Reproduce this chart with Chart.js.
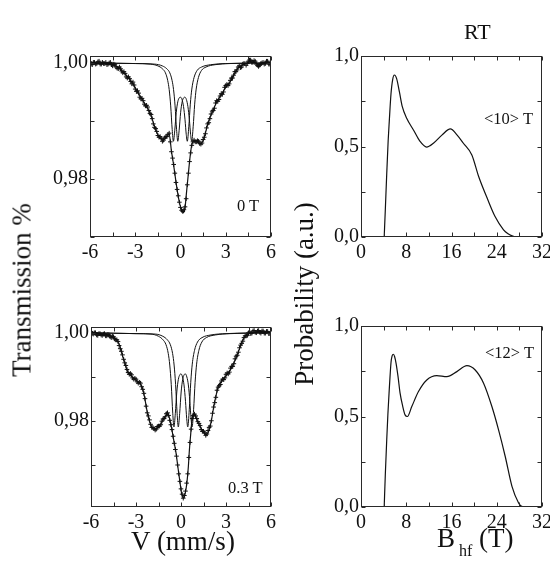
<!DOCTYPE html>
<html><head><meta charset="utf-8">
<script src="https://cdn.jsdelivr.net/npm/chart.js@4.4.0/dist/chart.umd.min.js"></script>
<style>
html,body{margin:0;padding:0;background:#fff}
body{width:550px;height:565px;position:relative;overflow:hidden;font-family:"Liberation Serif","Times New Roman",serif;color:#111}
canvas{position:absolute}
.t{position:absolute;white-space:nowrap;line-height:1}
.rot{transform:translate(-50%,-50%) rotate(-90deg)}
</style></head><body>
<canvas id="c1" width="290" height="230" style="left:0;top:36px"></canvas>
<canvas id="c2" width="260" height="230" style="left:290px;top:36px"></canvas>
<canvas id="c3" width="290" height="230" style="left:0;top:306px"></canvas>
<canvas id="c4" width="260" height="230" style="left:290px;top:306px"></canvas>

<div class="t" style="left:464px;top:21px;font-size:22px">RT</div>
<div class="t rot" style="left:22px;top:290px;font-size:27px">Transmission %</div>
<div class="t rot" style="left:304px;top:294px;font-size:27px">Probability (a.u.)</div>
<div class="t" style="left:183px;top:528px;font-size:27px;transform:translateX(-50%)">V (mm/s)</div>
<div class="t" style="left:437px;top:525px;font-size:27px">B<span style="font-size:16px;position:relative;top:9px;margin-left:4px">hf</span> (T)</div>
<div class="t" style="left:237px;top:198px;font-size:16.5px">0 T</div>
<div class="t" style="left:228px;top:480px;font-size:16.5px">0.3 T</div>
<div class="t" style="left:484px;top:111px;font-size:16.5px">&lt;10&gt; T</div>
<div class="t" style="left:485px;top:345px;font-size:16.5px">&lt;12&gt; T</div>

<script>
// ---- data ----
const vGrid = [-6.00,-5.85,-5.70,-5.55,-5.40,-5.25,-5.10,-4.95,-4.80,-4.65,-4.50,-4.35,-4.20,-4.05,-3.90,-3.75,-3.60,-3.45,-3.30,-3.15,-3.00,-2.85,-2.70,-2.55,-2.40,-2.25,-2.10,-1.95,-1.80,-1.65,-1.50,-1.35,-1.20,-1.05,-0.90,-0.75,-0.60,-0.45,-0.30,-0.15,0.00,0.15,0.30,0.45,0.60,0.75,0.90,1.05,1.20,1.35,1.50,1.65,1.80,1.95,2.10,2.25,2.40,2.55,2.70,2.85,3.00,3.15,3.30,3.45,3.60,3.75,3.90,4.05,4.20,4.35,4.50,4.65,4.80,4.95,5.10,5.25,5.40,5.55,5.70,5.85,6.00];
const vGridB = [-5.925,-5.775,-5.625,-5.475,-5.325,-5.175,-5.025,-4.875,-4.725,-4.575,-4.425,-4.275,-4.125,-3.975,-3.825,-3.675,-3.525,-3.375,-3.225,-3.075,-2.925,-2.775,-2.625,-2.475,-2.325,-2.175,-2.025,-1.875,-1.725,-1.575,-1.425,-1.275,-1.125,-0.975,-0.825,-0.675,-0.525,-0.375,-0.225,-0.075,0.075,0.225,0.375,0.525,0.675,0.825,0.975,1.125,1.275,1.425,1.575,1.725,1.875,2.025,2.175,2.325,2.475,2.625,2.775,2.925,3.075,3.225,3.375,3.525,3.675,3.825,3.975,4.125,4.275,4.425,4.575,4.725,4.875,5.025,5.175,5.325,5.475,5.625,5.775,5.925];

// 0 T spectrum: measured points
const tData0 = [1.0002,0.9997,1.0001,0.9999,1.0003,0.9998,0.9999,1.0001,0.9998,1.0001,
0.9995,0.9997,0.9991,0.9993,0.9986,0.9985,0.9976,0.9976,0.9968,0.9967,
0.9955,0.9952,0.9941,0.9939,0.9929,0.9927,0.9918,0.9911,0.9895,0.9887,
0.9875,0.9873,0.9865,0.9871,0.9873,0.9879,0.9847,0.9825,0.9794,0.9771,
0.9751,0.9744,0.9752,0.9790,0.9830,0.9858,0.9867,0.9864,0.9865,0.9860,
0.9868,0.9878,0.9895,0.9904,0.9917,0.9922,0.9935,0.9937,0.9947,0.9950,
0.9961,0.9961,0.9970,0.9974,0.9985,0.9988,0.9995,0.9993,0.9999,0.9996,
1.0003,1.0005,1.0001,1.0003,0.9996,0.9996,1.0000,0.9998,1.0003,0.9998,
1.0001];
const tData0b = [0.9998,1.0001,0.9998,1.0002,0.9998,1.0001,0.9999,0.9997,1.0000,0.9997,
0.9998,0.9993,0.9990,0.9990,0.9983,0.9982,0.9974,0.9973,0.9964,0.9962,
0.9951,0.9948,0.9938,0.9935,0.9926,0.9924,0.9913,0.9904,0.9889,0.9882,
0.9872,0.9870,0.9867,0.9873,0.9877,0.9864,0.9836,0.9810,0.9782,0.9760,
0.9746,0.9747,0.9766,0.9810,0.9845,0.9864,0.9864,0.9866,0.9861,0.9862,
0.9872,0.9888,0.9897,0.9912,0.9918,0.9931,0.9934,0.9943,0.9946,0.9958,
0.9963,0.9964,0.9974,0.9979,0.9985,0.9993,0.9992,0.9998,0.9999,0.9999,
1.0005,1.0001,1.0004,0.9998,0.9994,0.9999,1.0001,0.9999,1.0003,0.9998];
// 0.3 T spectrum: measured points
const tData3 = [1.0003,0.9997,1.0000,0.9994,0.9998,0.9994,0.9998,0.9993,0.9995,0.9989,
0.9991,0.9984,0.9980,0.9964,0.9950,0.9932,0.9917,0.9906,0.9905,0.9895,
0.9895,0.9886,0.9886,0.9872,0.9851,0.9819,0.9803,0.9786,0.9783,0.9782,
0.9789,0.9792,0.9805,0.9810,0.9819,0.9802,0.9781,0.9750,0.9721,0.9681,
0.9647,0.9626,0.9642,0.9681,0.9752,0.9806,0.9816,0.9806,0.9795,0.9781,
0.9777,0.9768,0.9779,0.9789,0.9818,0.9842,0.9870,0.9880,0.9891,0.9894,
0.9906,0.9907,0.9920,0.9924,0.9941,0.9949,0.9966,0.9976,0.9989,0.9993,
1.0000,0.9998,1.0004,1.0001,1.0004,1.0001,1.0004,0.9999,1.0003,0.9998,
1.0001];
const tData3b = [0.9998,1.0000,0.9995,0.9998,0.9995,0.9997,0.9993,0.9996,0.9991,0.9992,
0.9986,0.9984,0.9971,0.9958,0.9940,0.9926,0.9910,0.9908,0.9898,0.9897,
0.9889,0.9888,0.9878,0.9863,0.9834,0.9812,0.9793,0.9786,0.9780,0.9788,
0.9789,0.9800,0.9806,0.9817,0.9813,0.9792,0.9766,0.9736,0.9701,0.9664,
0.9635,0.9632,0.9660,0.9718,0.9782,0.9813,0.9812,0.9799,0.9790,0.9777,
0.9774,0.9771,0.9786,0.9801,0.9832,0.9854,0.9877,0.9883,0.9895,0.9898,
0.9909,0.9911,0.9924,0.9930,0.9947,0.9956,0.9972,0.9981,0.9993,0.9994,
1.0002,0.9999,1.0005,1.0000,1.0005,0.9999,1.0004,0.9999,1.0003,0.9998];

// total fit curves
const vFit0 = [-6.0,-5.5,-5.0,-4.6,-4.3,-4.0,-3.8,-3.5,-3.2,-2.9,-2.6,-2.3,-2.0,-1.8,-1.6,-1.4,-1.2,-1.0,-0.85,-0.75,-0.6,-0.45,-0.3,-0.15,0.0,0.19,0.3,0.41,0.52,0.63,0.74,0.9,1.1,1.3,1.5,1.7,1.9,2.1,2.3,2.5,2.75,3.0,3.3,3.6,3.8,4.1,4.4,4.75,5.0,5.3,5.6,6.0];
const tFit0 = [1.0000,1.0000,0.9999,0.9998,0.9995,0.9990,0.9984,0.9976,0.9966,0.9952,0.9940,0.9926,0.9913,0.9897,0.9882,0.9872,0.9867,0.9870,0.9876,0.9877,0.9848,0.9823,0.9795,0.9770,0.9752,0.9742,0.9751,0.9780,0.9809,0.9837,0.9858,0.9866,0.9866,0.9861,0.9866,0.9884,0.9902,0.9915,0.9927,0.9937,0.9947,0.9958,0.9968,0.9982,0.9991,0.9996,1.0000,1.0003,1.0000,0.9997,1.0000,1.0000];
const vFit3 = [-6.0,-5.5,-5.0,-4.6,-4.3,-4.1,-3.9,-3.75,-3.6,-3.4,-3.2,-2.9,-2.7,-2.55,-2.4,-2.2,-2.0,-1.8,-1.6,-1.4,-1.2,-1.0,-0.88,-0.72,-0.6,-0.5,-0.34,-0.21,-0.06,0.05,0.16,0.27,0.39,0.49,0.56,0.65,0.74,0.83,0.95,1.1,1.3,1.5,1.7,1.9,2.05,2.2,2.35,2.5,2.8,3.1,3.4,3.7,3.9,4.1,4.35,4.6,5.0,5.3,5.6,6.0];
const tFit3 = [1.0000,0.9997,0.9995,0.9992,0.9984,0.9972,0.9948,0.9933,0.9915,0.9905,0.9898,0.9890,0.9884,0.9873,0.9849,0.9812,0.9790,0.9782,0.9784,0.9790,0.9803,0.9813,0.9818,0.9800,0.9780,0.9760,0.9730,0.9697,0.9660,0.9635,0.9626,0.9635,0.9660,0.9697,0.9735,0.9772,0.9806,0.9816,0.9812,0.9800,0.9786,0.9775,0.9770,0.9783,0.9806,0.9836,0.9860,0.9880,0.9894,0.9907,0.9922,0.9946,0.9964,0.9982,0.9995,1.0000,1.0002,1.0003,1.0001,1.0000];

// sub-spectra (two doublets)
const vSubA = [-6,-3,-2,-1.5,-1.2,-1.0,-0.85,-0.75,-0.65,-0.55,-0.47,-0.38,-0.28,-0.18,-0.08,0.0,0.1,0.2,0.3,0.38,0.45,0.55,0.65,0.75,0.9,1.1,1.4,2,3,6];
const vSubB = [-6,-3,-1.71,-1.21,-0.91,-0.71,-0.56,-0.46,-0.36,-0.26,-0.18,-0.09,0.01,0.11,0.21,0.29,0.39,0.49,0.59,0.67,0.74,0.84,0.94,1.04,1.19,1.39,1.69,2.29,3.29,6];
const tSub0 = [1.0000,0.9999,0.9998,0.9995,0.9990,0.9983,0.9970,0.9954,0.9926,0.9885,0.9865,0.9884,0.9915,0.9933,0.9940,0.9941,0.9937,0.9925,0.9902,0.9877,0.9865,0.9890,0.9929,0.9955,0.9975,0.9987,0.9993,0.9997,0.9999,1.0000];
const tSub3 = [1.0000,0.9998,0.9997,0.9992,0.9984,0.9973,0.9953,0.9927,0.9883,0.9818,0.9787,0.9817,0.9866,0.9894,0.9905,0.9907,0.9900,0.9882,0.9845,0.9806,0.9787,0.9826,0.9888,0.9929,0.9960,0.9979,0.9989,0.9995,0.9998,1.0000];

// hyperfine field distributions
const bTop = [4.1,4.3,4.55,4.8,5.0,5.3,5.6,5.9,6.3,6.8,7.3,8.1,9.3,10.4,11.6,12.8,14.3,15.8,17.0,18.1,19.6,20.8,22.3,23.7,25.2,26.0,26.7,27.2];
const pTop = [0,0.15,0.35,0.53,0.64,0.79,0.87,0.895,0.875,0.80,0.72,0.655,0.59,0.53,0.497,0.518,0.563,0.597,0.563,0.518,0.453,0.334,0.215,0.113,0.040,0.018,0.006,0];
const bBot = [4.1,4.3,4.55,4.75,4.96,5.15,5.31,5.5,5.73,5.95,6.2,6.55,6.91,7.35,7.79,8.2,8.98,10.16,11.63,13.4,15.18,16.95,18.72,20.19,21.67,23.14,24.32,25.5,26.69,27.86,28.3,28.75];
const pBot = [0,0.18,0.371,0.51,0.629,0.73,0.80,0.835,0.844,0.83,0.794,0.72,0.629,0.56,0.509,0.500,0.555,0.638,0.702,0.726,0.720,0.748,0.781,0.757,0.684,0.555,0.426,0.279,0.114,0.022,0.006,0];

// ticks
const vTickMarks = [-6,-4.5,-3,-1.5,0,1.5,3,4.5,6];
const vTickLabels = [-6,-3,0,3,6];
const tTickMarks = [0.97,0.98,0.99,1.00];
const tTickLabels = [0.98,1.00];
const bTickMarks = [0,4,8,12,16,20,24,28,32];
const bTickLabels = [0,8,16,24,32];
const pTickMarks = [0,0.25,0.5,0.75,1];
const pTickLabels = [0,0.5,1];

// ---- drawing ----
const FONT = "'Liberation Serif','Times New Roman',serif";
const INK = '#111';
function pts(xs, ys){ return xs.map((x,i)=>({x:x, y:ys[i]})); }

function frameTicks(xt, yt){
  return {
    id:'frameTicks',
    afterDatasetsDraw(chart){
      const ctx = chart.ctx, a = chart.chartArea, sx = chart.scales.x, sy = chart.scales.y;
      const L = 4;
      const l = Math.round(a.left)+0.5, r = Math.round(a.right)-0.5, t = Math.round(a.top)+0.5, b = Math.round(a.bottom)-0.5;
      ctx.save();
      ctx.strokeStyle = '#2a2a2a'; ctx.lineWidth = 1;
      ctx.strokeRect(l, t, r-l, b-t);
      ctx.beginPath();
      xt.forEach(v=>{ const p = Math.round(sx.getPixelForValue(v))+0.5; ctx.moveTo(p,b); ctx.lineTo(p,b-L); ctx.moveTo(p,t); ctx.lineTo(p,t+L); });
      yt.forEach(v=>{ const p = Math.round(sy.getPixelForValue(v))+0.5; ctx.moveTo(l,p); ctx.lineTo(l+L,p); ctx.moveTo(r,p); ctx.lineTo(r-L,p); });
      ctx.stroke();
      ctx.restore();
    }
  };
}

function lineDs(data, w){
  return {data:data, showLine:true, pointRadius:0, borderColor:INK, borderWidth:w, backgroundColor:INK, cubicInterpolationMode:'monotone', fill:false};
}
function crossDs(data){
  return {data:data, showLine:false, pointStyle:'cross', pointRadius:2.3, borderColor:INK, borderWidth:1, backgroundColor:INK};
}

function makeChart(id, c){
  return new Chart(document.getElementById(id), {
    type:'scatter',
    data:{datasets:c.datasets},
    options:{
      responsive:false, animation:false, events:[],
      layout:{padding:{left:0, right:c.padR, top:c.padT, bottom:0}},
      plugins:{legend:{display:false}, tooltip:{enabled:false}},
      scales:{
        x:{type:'linear', min:c.xmin, max:c.xmax,
          grid:{display:false, drawTicks:false}, border:{display:false},
          afterFit(s){ s.height = c.xH; s.paddingLeft = 0; s.paddingRight = 0; },
          afterBuildTicks(s){ s.ticks = c.xLabels.map(v=>({value:v})); },
          ticks:{autoSkip:false, maxRotation:0, minRotation:0, padding:4, color:INK, font:{family:FONT, size:20}, callback:c.xFmt}
        },
        y:{type:'linear', min:c.ymin, max:c.ymax,
          grid:{display:false, drawTicks:false}, border:{display:false},
          afterFit(s){ s.width = c.yW; s.paddingTop = 0; s.paddingBottom = 0; },
          afterBuildTicks(s){ s.ticks = c.yLabels.map(v=>({value:v})); },
          ticks:{autoSkip:false, padding:2, color:INK, font:{family:FONT, size:20}, callback:c.yFmt}
        }
      }
    },
    plugins:[frameTicks(c.xMarks, c.yMarks)]
  });
}

const fmtV = v => String(v);
const fmtT = v => Number(v).toFixed(2).replace('.', ',');
const fmtP = v => Number(v).toFixed(1).replace('.', ',');

makeChart('c1', {
  datasets:[crossDs(pts(vGrid,tData0)), crossDs(pts(vGridB,tData0b)), lineDs(pts(vFit0,tFit0),1.2), lineDs(pts(vSubA,tSub0),1), lineDs(pts(vSubB,tSub0),1)],
  xmin:-6, xmax:6, ymin:0.9700, ymax:1.0012, padR:19, padT:20, xH:29, yW:90,
  xLabels:vTickLabels, yLabels:tTickLabels, xMarks:vTickMarks, yMarks:tTickMarks, xFmt:fmtV, yFmt:fmtT
});
makeChart('c3', {
  datasets:[crossDs(pts(vGrid,tData3)), crossDs(pts(vGridB,tData3b)), lineDs(pts(vFit3,tFit3),1.2), lineDs(pts(vSubA,tSub3),1), lineDs(pts(vSubB,tSub3),1)],
  xmin:-6, xmax:6, ymin:0.9606, ymax:1.0013, padR:19, padT:21, xH:29, yW:91,
  xLabels:vTickLabels, yLabels:tTickLabels, xMarks:vTickMarks, yMarks:tTickMarks, xFmt:fmtV, yFmt:fmtT
});
makeChart('c2', {
  datasets:[lineDs(pts(bTop,pTop),1.2)],
  xmin:0, xmax:32, ymin:0, ymax:1, padR:8, padT:20, xH:29, yW:71,
  xLabels:bTickLabels, yLabels:pTickLabels, xMarks:bTickMarks, yMarks:pTickMarks, xFmt:fmtV, yFmt:fmtP
});
makeChart('c4', {
  datasets:[lineDs(pts(bBot,pBot),1.2)],
  xmin:0, xmax:32, ymin:0, ymax:1, padR:8, padT:20, xH:29, yW:71,
  xLabels:bTickLabels, yLabels:pTickLabels, xMarks:bTickMarks, yMarks:pTickMarks, xFmt:fmtV, yFmt:fmtP
});
</script>
</body></html>
